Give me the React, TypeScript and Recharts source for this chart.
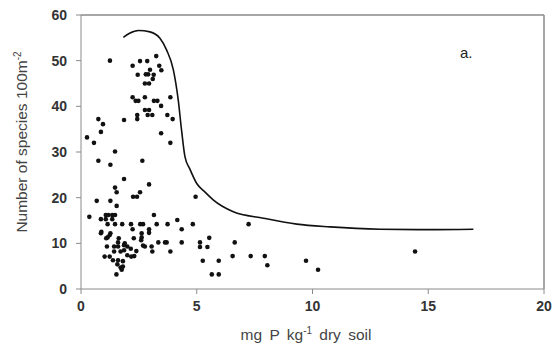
import { ComposedChart, Scatter, XAxis, YAxis, ReferenceLine, Label } from "recharts";

// field plots: soil P (mg/kg) vs species richness per 100 m2
const pValues = [
  1.25, 2.23, 2.55, 2.86, 3.25, 3.38, 3.47, 2.45, 2.8, 2.9, 2.98, 3.14, 3.1, 2.76, 2.94,
  2.23, 2.36, 2.48, 2.76, 3.15, 3.3, 3.46, 3.86, 2.76, 2.94, 2.88, 3.08, 2.43, 2.43, 1.86, 3.73, 3.96, 3.46, 3.86,
  0.26, 0.56, 0.75, 0.95, 0.86,
  1.47, 0.75, 1.27, 2.65, 1.86, 1.47, 1.54, 2.94, 2.55, 2.25, 2.42, 0.68, 1.27, 1.54, 4.95,
  0.36, 0.86, 1.07, 1.18, 1.35, 1.47, 1.07, 1.35, 1.15, 1.47, 1.78, 2.16, 2.56, 2.68, 3.15, 3.27, 3.74, 4.16, 4.35, 4.83,
  2.23, 2.94, 2.94, 0.86, 1.27, 1.15, 2.62, 2.62, 2.28, 3.34, 3.63, 3.7, 4.35, 3.86, 2.76, 3.05, 3.08,
  1.09, 1.63, 1.6, 1.89, 1.12, 1.43, 1.6, 2.0, 2.15, 1.43, 1.71, 2.39, 2.0, 1.02, 1.24, 2.17, 2.3, 1.38, 1.6, 1.81,
  1.57, 1.71, 1.81, 1.76, 1.53, 1.86, 1.86, 2.68, 0.88, 1.24, 2.6,
  5.54, 5.14, 5.14, 5.46, 6.64, 7.24, 5.26, 5.95, 5.65, 5.95, 6.55, 7.33, 7.94, 8.05, 9.72, 10.24, 14.43,
];
const speciesCounts = [
  50, 48.9, 49.9, 49.9, 51, 48.9, 47.9, 46.9, 47, 47, 48, 46.9, 46, 45, 45,
  42, 41.2, 41.2, 42, 41.2, 41.2, 40.1, 42, 39.2, 39.2, 38.1, 38.1, 38.1, 37.2, 37, 38.1, 37.2, 34.1, 32,
  33.2, 32, 37.2, 36.1, 34.4,
  30.1, 28.1, 27.2, 28.1, 24.1, 22.2, 21.2, 22.9, 21.2, 20.2, 20.2, 19.3, 19.3, 18.2, 20.2,
  15.8, 15.3, 16.2, 16.2, 16.2, 16.2, 15.3, 15.3, 14.2, 14.2, 14.2, 14.2, 14.2, 14.2, 16.2, 14.2, 14.2, 15.1, 13.1, 14.2,
  13.1, 13.1, 12.3, 12.2, 12.2, 11.3, 12.2, 11.3, 11.1, 10.2, 10.2, 10.2, 10.2, 8.2, 9.3, 9.3, 8.2,
  11.1, 11.1, 10.2, 10, 9.3, 9.3, 9.3, 9.3, 8.8, 8.2, 8.2, 8.3, 7.4, 7.1, 7.1, 7.1, 7.2, 6.3, 6.3, 6.1,
  5.4, 4.7, 4.9, 4.2, 3.2, 9.6, 8.5, 9.5, 12.5, 11.8, 10.7,
  11.2, 10.2, 9.2, 9.2, 10.2, 14.2, 6.2, 6.2, 3.2, 3.2, 7.2, 7.2, 7.2, 5.2, 6.2, 4.2, 8.2,
];

// upper boundary curve
const curveP = [1.83, 2.1, 2.48, 2.98, 3.41, 3.7, 3.99, 4.2, 4.35, 4.49, 4.7, 5.0, 5.36, 5.71, 6.58, 7.88, 9.32, 10.76, 12.92, 15, 16.95];
const curveSpecies = [55.1, 56, 56.6, 56.3, 54.9, 52.3, 48, 41.4, 34.5, 29, 26.3, 23.1, 21.2, 19.5, 16.9, 15.5, 14.2, 13.6, 13.1, 13, 13.1];

const xTicks = [0, 5, 10, 15, 20];
const yTicks = [0, 10, 20, 30, 40, 50, 60];

const points = pValues.map((x, i) => ({ x, y: speciesCounts[i] }));
const curve = curveP.map((x, i) => ({ x, y: curveSpecies[i] }));

const FONT = "'Liberation Sans', Arial, sans-serif";
const AXIS = "#8a8a8a";

const tickStyle = { fill: "#333", fontSize: 14, fontWeight: 700, fontFamily: FONT };

const Dot = (props: any) => {
  const { cx, cy } = props;
  return <circle cx={cx} cy={cy} r={2.3} fill="#111" />;
};

const YTitle = () => (
  <text
    x={0}
    y={0}
    transform="translate(27,142) rotate(-90)"
    textAnchor="middle"
    fill="#444"
    fontSize={15.5}
    fontFamily={FONT}
  >
    Number of species 100m
    <tspan dy={-6} fontSize={10}>-2</tspan>
  </text>
);

const XTitle = () => (
  <text x={306} y={340} textAnchor="middle" fill="#444" fontSize={15.5} fontFamily={FONT} wordSpacing={3}>
    mg P kg
    <tspan dy={-6} fontSize={10}>-1</tspan>
    <tspan dy={6}> dry soil</tspan>
  </text>
);

export default function App() {
  return (
    <div style={{ position: "absolute", left: 0, top: 0, background: "#fff" }}>
      <ComposedChart width={557} height={347} margin={{ top: 15, right: 13, left: 0, bottom: 0 }}>
        <XAxis
          type="number"
          dataKey="x"
          domain={[0, 20]}
          ticks={xTicks}
          height={58}
          stroke={AXIS}
          tickSize={5}
          tick={tickStyle}
          tickMargin={7}
        >
          <Label content={<XTitle />} />
        </XAxis>
        <YAxis
          type="number"
          dataKey="y"
          domain={[0, 60]}
          ticks={yTicks}
          width={81}
          stroke={AXIS}
          tickSize={5}
          tick={tickStyle}
          tickMargin={9}
        >
          <Label content={<YTitle />} />
        </YAxis>
        <ReferenceLine y={60} stroke={AXIS} strokeWidth={1.5} />
        <ReferenceLine x={20} stroke={AXIS} strokeWidth={1.5} />
        <Scatter data={points} shape={<Dot />} isAnimationActive={false} />
        <Scatter
          data={curve}
          shape={() => <g />}
          line={{ stroke: "#111", strokeWidth: 1.6 }}
          lineJointType="monotoneX"
          isAnimationActive={false}
        />
        <text x={460} y={58} fill="#222" fontSize={15} fontFamily={FONT}>
          a.
        </text>
      </ComposedChart>
    </div>
  );
}
